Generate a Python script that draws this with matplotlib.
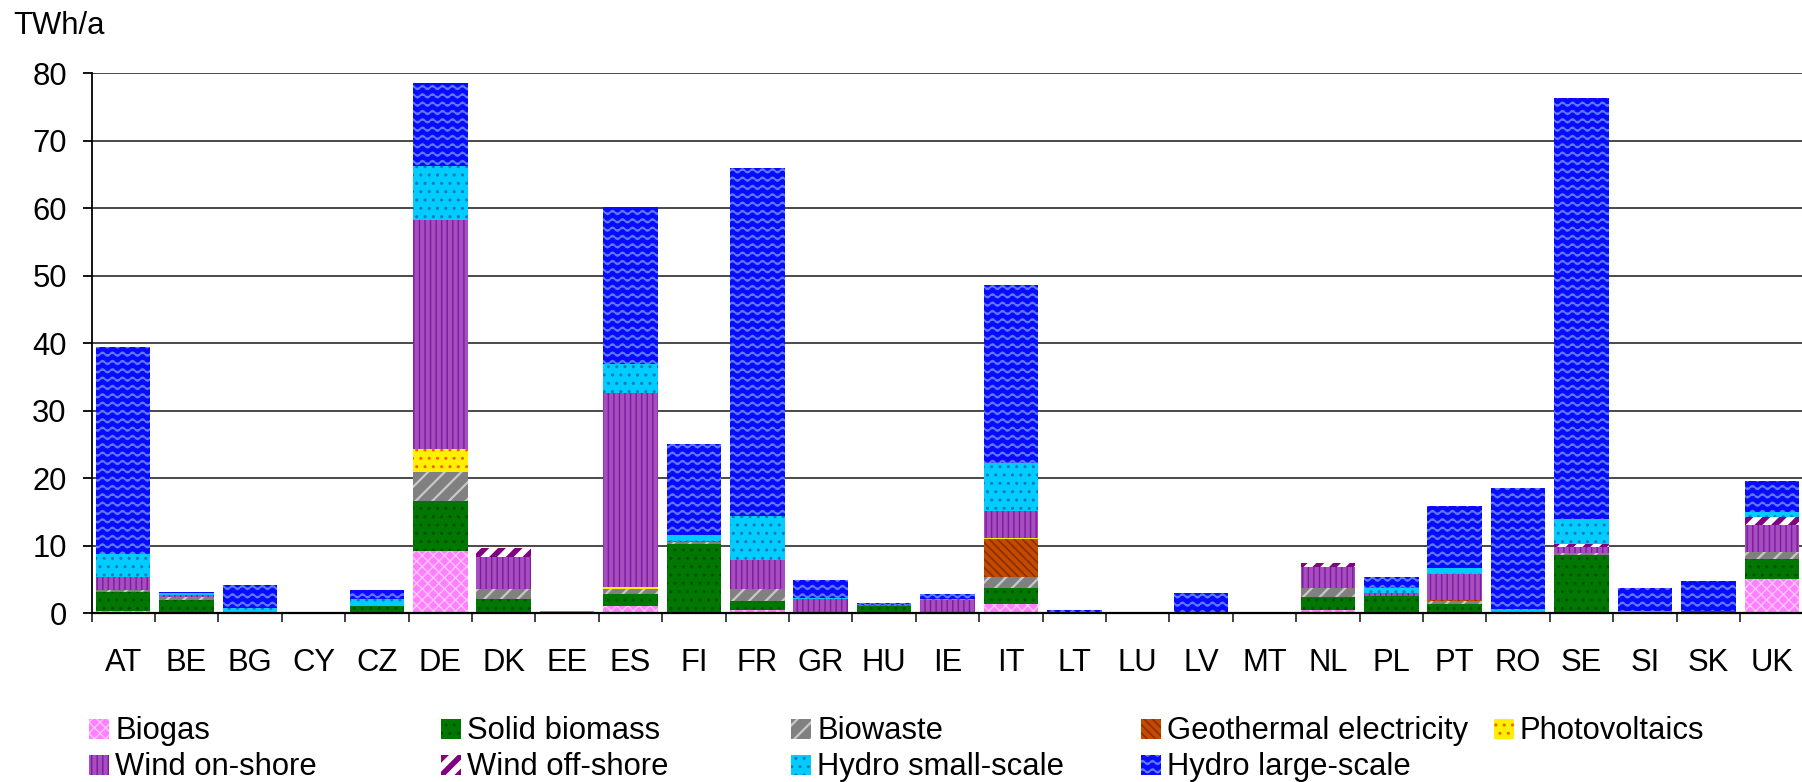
import warnings
import matplotlib
matplotlib.use("Agg")
import matplotlib.pyplot as plt
import matplotlib.hatch as mhatch
from matplotlib.path import Path
from matplotlib.patches import Rectangle
import numpy as np

warnings.filterwarnings("ignore")

# renewable electricity per country, TWh/a
countries = ["AT", "BE", "BG", "CY", "CZ", "DE", "DK", "EE", "ES", "FI", "FR", "GR", "HU", "IE",
             "IT", "LT", "LU", "LV", "MT", "NL", "PL", "PT", "RO", "SE", "SI", "SK", "UK"]

biogas        = [0.4, 0.15, 0.0, 0, 0.1, 9.25, 0.1, 0.0, 1.1, 0.05, 0.45, 0.05, 0.1, 0.1,
                 1.4, 0.0, 0.05, 0.05, 0, 0.45, 0.1, 0.05, 0.0, 0.05, 0.05, 0.0, 5.1]
solid_biomass = [2.8, 1.85, 0.0, 0, 1.0, 7.45, 2.0, 0.15, 1.7, 10.15, 1.35, 0.0, 1.0, 0.0,
                 2.4, 0.2, 0.0, 0.0, 0, 1.95, 2.45, 1.4, 0.0, 8.55, 0.05, 0.4, 2.9]
biowaste      = [0.3, 0.35, 0.0, 0, 0.0, 4.2, 1.5, 0.0, 0.8, 0.4, 1.8, 0.0, 0.0, 0.0,
                 1.6, 0.0, 0.0, 0.0, 0, 1.3, 0.0, 0.3, 0.0, 0.4, 0.0, 0.0, 1.05]
geothermal    = [0, 0, 0, 0, 0, 0.0, 0, 0, 0, 0, 0, 0, 0, 0,
                 5.55, 0, 0, 0, 0, 0, 0, 0.2, 0, 0, 0, 0, 0]
photovoltaics = [0.0, 0.0, 0, 0, 0, 3.5, 0, 0, 0.35, 0, 0.0, 0, 0, 0,
                 0.15, 0, 0, 0, 0, 0, 0, 0.0, 0, 0, 0, 0, 0]
wind_onshore  = [1.9, 0.4, 0.1, 0, 0.0, 33.8, 4.7, 0.1, 28.65, 0.17, 4.25, 2.05, 0.2, 1.9,
                 4.1, 0.0, 0.0, 0.0, 0, 3.1, 0.4, 3.8, 0.0, 0.8, 0.0, 0.0, 4.05]
wind_offshore = [0, 0, 0, 0, 0, 0, 1.4, 0, 0, 0, 0, 0, 0, 0,
                 0, 0, 0, 0, 0, 0.6, 0, 0, 0, 0.4, 0, 0, 1.2]
hydro_small   = [3.4, 0.25, 0.65, 0, 1.0, 8.1, 0.0, 0.05, 4.3, 0.85, 6.6, 0.1, 0.0, 0.1,
                 7.1, 0.0, 0.2, 0.0, 0, 0.0, 0.85, 1.0, 0.7, 3.8, 0.3, 0.0, 0.65]
hydro_large   = [30.6, 0.15, 3.45, 0, 1.3, 12.3, 0.0, 0.0, 23.3, 13.4, 51.55, 2.8, 0.25, 0.75,
                 26.4, 0.35, 0.0, 2.9, 0, 0.1, 1.65, 9.2, 17.8, 62.3, 3.3, 4.4, 4.65]

labels = ["Biogas", "Solid biomass", "Biowaste", "Geothermal electricity", "Photovoltaics",
          "Wind on-shore", "Wind off-shore", "Hydro small-scale", "Hydro large-scale"]
values = [biogas, solid_biomass, biowaste, geothermal, photovoltaics,
          wind_onshore, wind_offshore, hydro_small, hydro_large]

# face colour, hatch, hatch colour, hatch line width
styles = [("#FF80FF", "xxx", "#FFC4FF", 1.0),
          ("#007700", "..", "#004F00", 1.0),
          ("#808080", "//", "#C8C8C8", 1.6),
          ("#C44A00", "\\\\\\\\", "#8A2E00", 1.2),
          ("#FFF000", "..", "#FF5A00", 1.0),
          ("#A64DBF", "|||", "#7E1A9E", 1.0),
          ("#FFFFFF", "//", "#800080", 4.0),
          ("#00CCFF", "..", "#1478B4", 1.0),
          ("#0A0AFF", "~~", "#5C7CFF", 1.3)]


class WaveHatch(mhatch.HatchPatternBase):
    """wavy horizontal lines, hatch character '~'"""
    n_seg = 80

    def __init__(self, hatch, density):
        self.num_lines = int(hatch.count("~") * density)
        self.num_vertices = self.num_lines * (self.n_seg + 1)

    def set_vertices_and_codes(self, vertices, codes):
        steps, stepsize = np.linspace(0.0, 1.0, self.num_lines, False, retstep=True)
        steps += stepsize / 2.0
        xs = np.linspace(0.0, 1.0, self.n_seg + 1)
        wave = 0.018 * np.sin(2 * np.pi * 10 * xs)
        n = self.n_seg + 1
        for k, y0 in enumerate(steps):
            vertices[k * n:(k + 1) * n, 0] = xs
            vertices[k * n:(k + 1) * n, 1] = y0 + wave
            codes[k * n:(k + 1) * n] = Path.LINETO
            codes[k * n] = Path.MOVETO


mhatch._hatch_types.append(WaveHatch)

FS = 22.3
plt.rcParams["font.family"] = ["Liberation Sans", "DejaVu Sans"]
plt.rcParams["font.size"] = FS


def hatched(artist, lw):
    if hasattr(artist, "set_hatch_linewidth"):
        artist.set_hatch_linewidth(lw)


W, H = 1802, 782
fig = plt.figure(figsize=(W / 100, H / 100), dpi=100)
ax = fig.add_axes([91.5 / W, (H - 613.3) / H, 1712 / W, 540 / H])

x = np.arange(len(countries))
bottom = np.zeros(len(countries))
for lab, vals, (fc, hatch, hc, hlw) in zip(labels, values, styles):
    vals = np.array(vals, dtype=float)
    with plt.rc_context({"hatch.linewidth": hlw}):
        bars = ax.bar(x, vals, width=0.86, bottom=bottom, color=fc, edgecolor=hc,
                      hatch=hatch, linewidth=0, label=lab, zorder=2)
    for b in bars:
        hatched(b, hlw)
    bottom += vals

ax.set_xlim(-0.5, len(countries) - 0.5)
ax.set_ylim(0, 80)
ax.set_yticks(np.arange(0, 81, 10))
ax.yaxis.grid(True, color="#3a3a3a", linewidth=1.3)
ax.set_axisbelow(True)

# category boundary ticks, labels in the middle
ax.set_xticks(np.arange(-0.5, len(countries), 1))
ax.set_xticklabels([])
ax.set_xticks(x, minor=True)
ax.set_xticklabels(countries, minor=True)
ax.tick_params(axis="x", which="major", length=6.5, width=1.3, direction="out", color="#333333")
ax.tick_params(axis="x", which="minor", length=0, pad=25, labelsize=FS)
ax.tick_params(axis="y", length=6.5, width=1.3, direction="out", pad=11.3, labelsize=FS)

for side in ["top", "right"]:
    ax.spines[side].set_visible(False)
ax.spines["left"].set_linewidth(1.3)
ax.spines["bottom"].set_linewidth(1.6)

fig.text(13 / W, 1 - 34 / H, "TWh/a", ha="left", va="baseline", fontsize=FS)

# legend: fixed-width columns, two rows (swatch top in px from figure top)
col_x = [89, 441, 791, 1141, 1494]
row_y = [719, 755]
for i, (lab, (fc, hatch, hc, hlw)) in enumerate(zip(labels, styles)):
    px, py = col_x[i % 5], row_y[i // 5]
    with plt.rc_context({"hatch.linewidth": hlw}):
        sw = Rectangle((px / W, 1 - (py + 20) / H), 20 / W, 20 / H, transform=fig.transFigure,
                       facecolor=fc, edgecolor=hc, hatch=hatch, linewidth=0)
    hatched(sw, hlw)
    fig.add_artist(sw)
    fig.text((px + 26) / W, 1 - (py + 20) / H, lab, ha="left", va="baseline", fontsize=FS)

fig.savefig("out.png", dpi=100)
